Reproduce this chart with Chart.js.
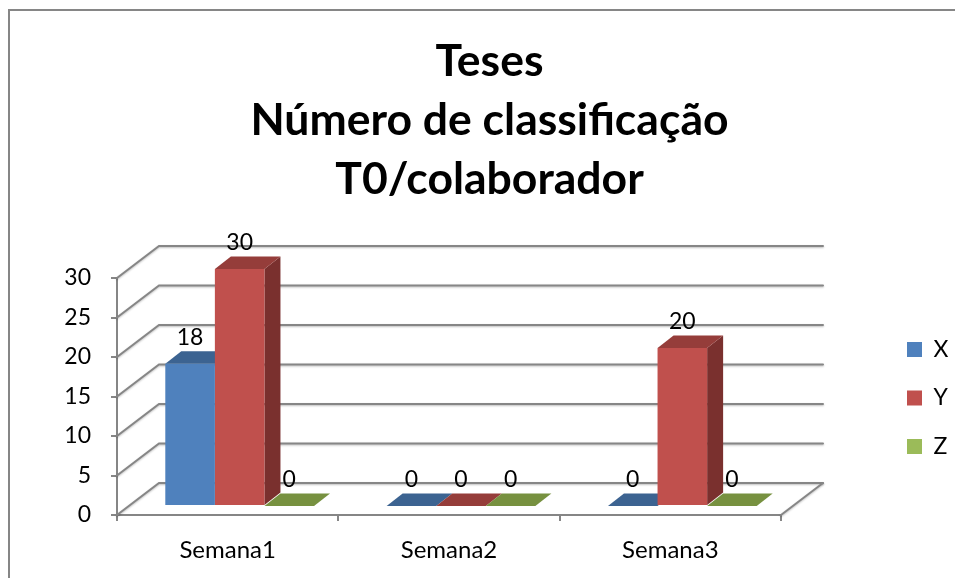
<!DOCTYPE html>
<html><head><meta charset="utf-8">
<style>html,body{margin:0;padding:0;background:#fff}canvas{display:block}</style>
<script src="https://cdn.jsdelivr.net/npm/chart.js@4"></script>
</head><body><canvas id="c" width="955" height="578"></canvas>
<script>
const titleLines = ['Teses','Número de classificação','T0/colaborador'];
const categories = ['Semana1','Semana2','Semana3'];
const seriesNames = ['X','Y','Z'];
const valuesX = [18,0,0];
const valuesY = [30,0,20];
const valuesZ = [0,0,0];
const frontColors = ['#4F81BD','#C0504D','#9BBB59'];
const topColors = ['#3C6391','#953D3A','#779140'];
const sideColors = ['#2E4C70','#7A302E','#5C7031'];
const GRID = '#868686';
const FONT = 'Lato, Carlito, sans-serif';
const WALL = {dx:42, dy:-32};     // depth of the box
const BAR = {dx:16, dy:-12.5};    // depth of each column
const SHIFT = {x:12, y:-9};       // columns stand mid-floor

function poly(ctx, pts, fill){
  ctx.beginPath();
  pts.forEach((p,i)=> i ? ctx.lineTo(p[0],p[1]) : ctx.moveTo(p[0],p[1]));
  ctx.closePath(); ctx.fillStyle = fill; ctx.fill();
}
const scene = {
  id:'scene',
  beforeLayout(chart){
    const lg = chart.legend;
    if(lg && !lg._wrapped){
      const f = lg.fit;
      lg.fit = function(){ f.call(this); this.width = 174; };
      lg._wrapped = true;
    }
  },
  afterLayout(chart){
    const lg = chart.legend;
    const pad = lg.options.labels.padding;
    lg.left = 907 - pad; lg.right = 955;
    lg.top = 338 - pad; lg.bottom = 578;
  },
  beforeDraw(chart){
    const c = chart.ctx;
    c.save(); c.strokeStyle = GRID; c.lineWidth = 2;
    c.beginPath(); c.moveTo(9,578); c.lineTo(9,10); c.lineTo(955,10); c.stroke();
    c.restore();
  },
  beforeDatasetsDraw(chart){
    const c = chart.ctx, y = chart.scales.y, a = chart.chartArea;
    c.save();
    c.strokeStyle = GRID; c.lineWidth = 2; c.lineCap = 'round';
    c.shadowColor = 'rgba(0,0,0,.25)'; c.shadowBlur = 2; c.shadowOffsetY = 1;
    y.ticks.forEach(t=>{
      const py = y.getPixelForValue(t.value);
      c.beginPath();
      c.moveTo(a.left,py); c.lineTo(a.left+WALL.dx,py+WALL.dy); c.lineTo(a.right+WALL.dx,py+WALL.dy);
      c.stroke();
    });
    const by = y.getPixelForValue(0);
    c.beginPath(); c.moveTo(a.right,by); c.lineTo(a.right+WALL.dx,by+WALL.dy); c.stroke();
    c.restore();
    c.save();
    c.translate(SHIFT.x,SHIFT.y);
    chart.data.datasets.forEach((ds,di)=>{
      chart.getDatasetMeta(di).data.forEach(b=>{
        const l = b.x-b.width/2, r = b.x+b.width/2, t = b.y, bt = b.base;
        if(bt-t>0) poly(c,[[r,t],[r+BAR.dx,t+BAR.dy],[r+BAR.dx,bt+BAR.dy],[r,bt]],sideColors[di]);
        poly(c,[[l,t],[l+BAR.dx,t+BAR.dy],[r+BAR.dx,t+BAR.dy],[r,t]],topColors[di]);
      });
    });
  },
  afterDatasetsDraw(chart){
    const c = chart.ctx;
    c.fillStyle = '#000'; c.font = '23px '+FONT; c.textAlign = 'center'; c.textBaseline = 'middle';
    chart.data.datasets.forEach((ds,di)=>{
      chart.getDatasetMeta(di).data.forEach((b,i)=>{
        c.fillText(String(ds.data[i]), b.x, b.y-26.5);
      });
    });
    c.restore();
  }
};
new Chart(document.getElementById('c'),{
  type:'bar',
  data:{labels:categories,datasets:[
    {label:seriesNames[0],data:valuesX,backgroundColor:frontColors[0]},
    {label:seriesNames[1],data:valuesY,backgroundColor:frontColors[1]},
    {label:seriesNames[2],data:valuesZ,backgroundColor:frontColors[2]}
  ]},
  options:{
    responsive:false,animation:false,
    layout:{padding:{left:24,right:0,top:0,bottom:0}},
    categoryPercentage:0.672,barPercentage:1,
    plugins:{
      tooltip:{enabled:false},
      title:{display:true,text:titleLines,color:'#000',
        font:{family:FONT,size:44.5,weight:'bold',lineHeight:1.326},
        padding:{top:32,bottom:69}},
      legend:{position:'right',align:'start',
        labels:{boxWidth:15,boxHeight:15,padding:25.5,color:'#000',font:{family:FONT,size:23}}}
    },
    scales:{
      x:{
        afterFit:s=>{s.height=63},
        grid:{display:true,drawOnChartArea:false,drawTicks:true,tickLength:6,color:GRID,lineWidth:2},
        border:{display:true,color:GRID,width:2},
        ticks:{color:'#000',font:{family:FONT,size:24},padding:15,maxRotation:0}
      },
      y:{
        min:0,max:30,
        afterFit:s=>{s.width=93},
        grid:{display:true,drawOnChartArea:false,drawTicks:true,tickLength:6,color:GRID,lineWidth:2},
        border:{display:true,color:GRID,width:2},
        ticks:{stepSize:5,color:'#000',font:{family:FONT,size:23},padding:20}
      }
    }
  },
  plugins:[scene]
});
</script></body></html>
